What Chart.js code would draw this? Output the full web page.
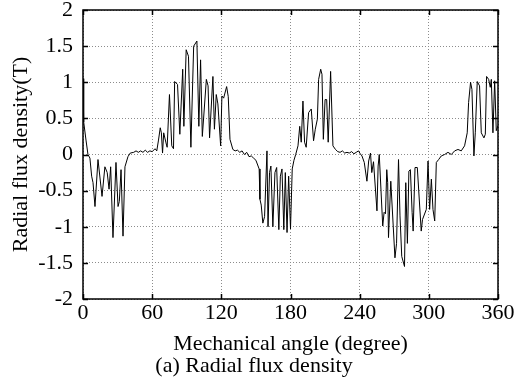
<!DOCTYPE html>
<html>
<head>
<meta charset="utf-8">
<script src="https://cdn.jsdelivr.net/npm/chart.js@4/dist/chart.umd.min.js"></script>
<style>
  html, body { margin: 0; padding: 0; background: #fff; }
  #wrap { width: 524px; height: 381px; position: relative; }
</style>
</head>
<body>
<div id="wrap"><canvas id="c" width="524" height="381"></canvas></div>
<script>
// mechanical angle (deg) and radial flux density (T)
const angle = [
  0, 0.6, 2.6, 4.3, 6, 7.5, 8.7, 10.4, 13, 16.5, 19, 21, 22.6, 24, 26, 28.6, 30.4, 31.5, 33, 34.7, 36.4,
  39, 41, 44, 46, 48, 50, 52, 54, 56, 58, 60, 62.5, 64, 65.5, 67, 68, 69, 70, 72, 73, 75, 77, 78.5,
  79.5, 82, 84, 86.5, 87.5, 89.5, 91.5, 93.6, 96, 98.8, 100.5, 102, 103.5, 107, 108.5, 109.8, 112.7,
  114, 115.6, 117, 119.4, 120.5, 122, 124.6, 126, 127.5, 130, 132, 134, 136, 138, 140, 142, 144, 146,
  148, 150, 152.8, 153.5, 154.6, 156, 157.5, 159.6, 160.5, 161.8, 163, 164.7, 166.5, 168, 169.9, 171.2,
  172.6, 174.2, 175.5, 177, 178.4, 180, 181.5, 183, 184.5, 186.5, 188, 189.3, 190.8, 192.2, 193.6,
  195.7, 198, 200, 201.5, 203.3, 204.4, 206.2, 207.3, 208.5, 210, 211.4, 212.7, 214.8, 216.8, 219,
  221, 223, 225, 227, 229, 231, 233, 235, 237, 239, 240.5, 242, 244, 246.3, 247.8, 249.4, 250.5, 252,
  255, 256, 257, 260, 261.2, 262.4, 263.5, 264.3, 265, 267, 270.6, 272, 273.7, 275, 276.5, 278.9, 280,
  281.4, 282.7, 284, 285.5, 286.4, 288, 290, 293.4, 294.5, 297.8, 299.3, 300.7, 302.2, 303.6, 305.1,
  306.5, 308.5, 310.8, 313.7, 316.6, 319.5, 322.4, 325.3, 328.1, 331, 333.3, 334.5, 336.2, 337.4,
  339.1, 340.3, 342, 344, 345.5, 347.8, 349, 350.1, 351.9, 353.3, 354.2, 355.6, 357.1, 358.5, 360
];
const flux = [
  1.05, 0.45, 0.2, 0.0, -0.05, -0.3, -0.39, -0.72, -0.07, -0.58, -0.17, -0.25, -0.48, -0.17, -1.15, -0.11, -0.72, -0.65, -0.21, -1.13, -0.17,
  -0.03, 0.02, 0.03, 0.05, 0.03, 0.05, 0.03, 0.06, 0.03, 0.05, 0.04, 0.08, 0.05, 0.2, 0.37, 0.3, 0.02, 0.3, 0.16, 0.1, 0.83, 0.12, 0.08,
  1.01, 0.97, 0.28, 1.18, 0.39, 1.45, 1.36, 0.1, 1.5, 1.57, 0.39, 1.31, 0.25, 1.04, 0.95, 0.23, 1.08,
  0.35, 0.83, 0.7, 0.12, 0.81, 0.78, 0.94, 0.8, 0.21, 0.07, 0.05, 0.06, 0.03, 0.05, 0.0, 0.03, -0.03, -0.02,
  -0.05, -0.08, -0.2, -0.62, -0.7, -0.95, -0.86, 0.05, -1.0, -0.25, -0.16, -1.0, -0.25, -0.18, -1.04, -0.3,
  -0.2, -1.04, -0.25, -1.08, -0.3, -1.03, -0.2, -0.08, 0.0, 0.12, 0.39, 0.17, 0.74, 0.17, 0.1,
  0.58, 0.63, 0.19, 0.35, 0.49, 1.04, 1.18, 1.11, 0.21, 0.76, 0.76, 0.17, 1.15, 0.12, 0.07,
  0.04, 0.03, 0.05, 0.02, 0.03, 0.02, 0.04, 0.01, 0.03, 0.05, 0.01, -0.02, -0.11, -0.37, -0.09, 0.02, -0.25, -0.1,
  -0.78, -0.16, 0.0, -0.99, -0.8, -0.82, -0.21, -0.39, -1.15, -0.37, -1.43, -1.23, -0.07, -0.85, -1.41, -1.55, -0.39,
  -1.23, -0.23, -0.21, -0.8, -1.06, -0.18, -0.18, -1.06, -0.9, -0.76, -0.09, -0.76, -0.34, -0.76, -0.92,
  -0.11, -0.07, -0.02, 0.0, 0.03, 0.0, 0.05, 0.07, 0.05, 0.12, 0.3, 0.72, 1.0, 0.9,
  -0.02, 0.3, 1.01, 0.95, 0.3, 0.23, 0.28, 1.08, 1.04, 0.93, 1.04, 0.3, 1.02, 0.33, 0.4
];
const xTicks = [0, 60, 120, 180, 240, 300, 360];
const yTicks = [-2, -1.5, -1, -0.5, 0, 0.5, 1, 1.5, 2];

const FONT = { family: 'Liberation Serif', size: 22, lineHeight: 1 };

// box round the plot and MATLAB-style inward ticks on all four sides
const frame = {
  id: 'frame',
  afterDraw(chart) {
    const { ctx, chartArea: a, scales } = chart;
    ctx.save();
    ctx.strokeStyle = '#000';
    ctx.lineWidth = 1.5;
    ctx.strokeRect(a.left, a.top, a.right - a.left, a.bottom - a.top);
    ctx.beginPath();
    const t = 5;
    xTicks.forEach(v => {
      const x = Math.round(scales.x.getPixelForValue(v)) + 0.5;
      ctx.moveTo(x, a.bottom); ctx.lineTo(x, a.bottom - t);
      ctx.moveTo(x, a.top); ctx.lineTo(x, a.top + t);
    });
    yTicks.forEach(v => {
      const y = Math.round(scales.y.getPixelForValue(v)) + 0.5;
      ctx.moveTo(a.left, y); ctx.lineTo(a.left + t, y);
      ctx.moveTo(a.right, y); ctx.lineTo(a.right - t, y);
    });
    ctx.stroke();
    ctx.restore();
  }
};

// keep the plot box where the reference has it, not where label overflow pushes it
const noOverflow = (s) => {
  s.paddingTop = 0; s.paddingBottom = 0; s.paddingLeft = 0; s.paddingRight = 0;
};

new Chart(document.getElementById('c'), {
  type: 'line',
  data: {
    datasets: [{
      data: angle.map((a, i) => ({ x: a, y: flux[i] })),
      borderColor: '#000',
      borderWidth: 1,
      pointRadius: 0,
      tension: 0,
      fill: false,
    }],
  },
  options: {
    responsive: false,
    animation: false,
    layout: { padding: { left: 10, right: 26, top: 10, bottom: 0 } },
    plugins: {
      legend: { display: false },
      tooltip: { enabled: false },
      title: {
        display: true,
        position: 'bottom',
        text: '(a) Radial flux density',
        color: '#000',
        font: { ...FONT, weight: 'normal' },
        padding: { top: 0, bottom: 4 },
      },
    },
    scales: {
      x: {
        type: 'linear',
        min: 0, max: 360,
        afterBuildTicks: (s) => { s.ticks = xTicks.map(v => ({ value: v })); },
        afterFit: noOverflow,
        grid: { color: '#8c8c8c', drawTicks: false },
        border: { display: false, dash: [1, 2] },
        ticks: { color: '#000', padding: 3, maxRotation: 0, font: FONT },
        title: {
          display: true, text: 'Mechanical angle (degree)', color: '#000',
          font: FONT, padding: { top: 6, bottom: 0 },
        },
      },
      y: {
        min: -2, max: 2,
        afterBuildTicks: (s) => { s.ticks = yTicks.map(v => ({ value: v })); },
        afterFit: (s) => { s.width = 73; noOverflow(s); },
        grid: { color: '#8c8c8c', drawTicks: false },
        border: { display: false, dash: [1, 2] },
        ticks: { color: '#000', padding: 10, font: FONT, callback: (v) => String(v) },
        title: {
          display: true, text: 'Radial flux density(T)', color: '#000',
          font: FONT, padding: { top: 0, bottom: 0 },
        },
      },
    },
  },
  plugins: [frame],
});
</script>
</body>
</html>
